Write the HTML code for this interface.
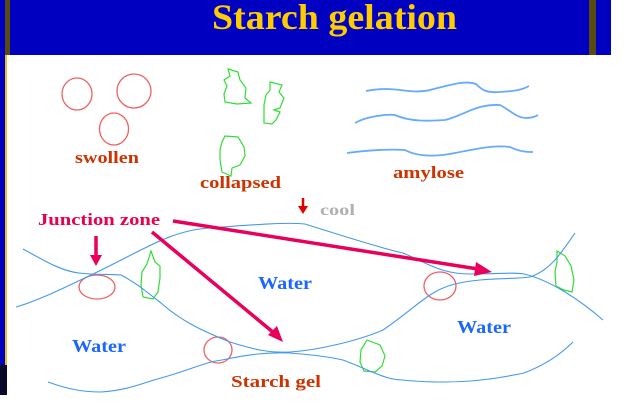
<!DOCTYPE html>
<html><head><style>
body{margin:0;width:624px;height:405px;overflow:hidden;background:#fff}
svg{display:block}
text{font-family:"Liberation Serif",serif;font-weight:bold}
</style></head><body>
<svg width="624" height="405" viewBox="0 0 624 405" xmlns="http://www.w3.org/2000/svg">
<rect x="0" y="0" width="611" height="55" fill="#0000c0"/>
<rect x="0" y="55" width="7" height="310" fill="#0000c0"/>
<rect x="0" y="365" width="7" height="30" fill="#080828"/>
<rect x="5" y="0" width="5" height="55" fill="#5a4a10"/>
<rect x="5" y="55" width="2" height="310" fill="#e8c020"/>
<rect x="589" y="0" width="7" height="55" fill="#5a4a10"/>
<text x="212" y="29" font-size="36" fill="#ffcc00" textLength="245" lengthAdjust="spacingAndGlyphs">Starch gelation</text>

<g fill="none" stroke="#f06060" stroke-width="1.3">
<ellipse cx="77" cy="94" rx="15" ry="16"/>
<ellipse cx="134" cy="91" rx="17" ry="17"/>
<ellipse cx="114" cy="129" rx="14.5" ry="16"/>
<ellipse cx="97" cy="287" rx="18" ry="12"/>
<ellipse cx="440" cy="286" rx="16" ry="14"/>
<ellipse cx="218" cy="350" rx="14" ry="13"/>
</g>
<g fill="none" stroke="#33dd33" stroke-width="1.2">
<path d="M228,69 L238,72 L240,80 L246,88 L245,98 L251,103 L237,104 L225,102 L224,94 L227,86 L224,80 L230,76 Z"/>
<path d="M270,82 L282,85 L279,92 L284,98 L280,108 L274,110 L280,112 L276,120 L272,124 L264,123 L264,105 L266,95 L270,90 Z"/>
<path d="M225,136 L238,137 L244,147 L245,156 L240,165 L232,168 L231,176 L222,172 L220,160 L220,150 L222,142 Z"/>
<path d="M151,251 L155,262 L160,266 L160,278 L158,292 L153,299 L143,297 L141,285 L142,272 L147,264 Z"/>
<path d="M557,251 L565,256 L571,266 L574,280 L572,292 L564,290 L556,286 L555,272 L557,262 Z"/>
<path d="M367,340 L380,345 L385,356 L382,366 L375,372 L364,371 L360,362 L361,350 Z"/>
</g>
<g fill="none" stroke="#66aaff" stroke-width="1.8">
<path d="M366,91 C395,85 410,95 430,90 C450,85 465,80 476,84 C482,90 486,93 500,92 C515,91 522,90 529,86"/>
<path d="M355,123 C365,117 385,114 395,115 C410,122 430,121 445,120 C465,115 475,104 500,105 C510,110 515,117 525,118 C530,118 535,117 538,115"/>
<path d="M347,153 C370,150 390,149 405,150 C420,158 440,156 455,153 C480,148 495,145 510,147 C520,152 528,152 533,152"/>
</g>
<g fill="none" stroke="#4499ee" stroke-width="1.1">
<path d="M16,307 C40,300 70,285 93,274 C140,252 170,230 210,228 C250,225 285,222 305,224 C340,235 380,248 403,253 C425,262 440,274 470,274 C500,274 515,272 524,274 C550,280 580,300 603,320"/>
<path d="M23,249 C40,258 60,271 79,273 C95,275 110,274 121,275 C140,285 150,295 161,303 C180,320 200,330 230,342 C255,350 270,353 290,352 C320,350 360,340 383,330 C405,315 415,305 430,295 C445,285 460,282 480,280 C500,278 515,279 530,277 C550,270 560,255 575,233"/>
<path d="M48,382 C70,390 85,392 101,392 C130,390 145,382 161,378 C190,370 205,362 222,360 C245,355 265,352 290,353 C315,355 330,357 343,360 C370,370 385,380 403,380 C420,382 435,382 444,382 C475,382 500,378 524,373 C545,365 560,355 573,342"/>
</g>
<g stroke="#e8005a" stroke-width="3.5" fill="#e8005a">
<line x1="173" y1="221" x2="478" y2="269"/>
<polygon points="492,272 476,262 474,276" stroke="none"/>
<line x1="152" y1="232" x2="274" y2="333"/>
<polygon points="283,342 268,335 277,326" stroke="none"/>
<line x1="96" y1="236" x2="96" y2="256"/>
<polygon points="96,266 90,255 102,255" stroke="none"/>
</g>
<g stroke="#e00000" stroke-width="2.5" fill="#e00000">
<line x1="303" y1="198" x2="303" y2="207"/>
<polygon points="303,214 298,206 308,206" stroke="none"/>
</g>
<text x="75" y="163" font-size="17" fill="#cc3300" textLength="64" lengthAdjust="spacingAndGlyphs">swollen</text>
<text x="200" y="188" font-size="17" fill="#cc3300" textLength="81" lengthAdjust="spacingAndGlyphs">collapsed</text>
<text x="393" y="178" font-size="17" fill="#cc3300" textLength="71" lengthAdjust="spacingAndGlyphs">amylose</text>
<text x="320" y="215" font-size="16" fill="#b0b0b0" textLength="35" lengthAdjust="spacingAndGlyphs">cool</text>
<text x="38" y="225" font-size="17" fill="#e8004c" textLength="122" lengthAdjust="spacingAndGlyphs">Junction zone</text>
<text x="258" y="289" font-size="18" fill="#1a66ff" textLength="54" lengthAdjust="spacingAndGlyphs">Water</text>
<text x="72" y="352" font-size="18" fill="#1a66ff" textLength="54" lengthAdjust="spacingAndGlyphs">Water</text>
<text x="457" y="333" font-size="18" fill="#1a66ff" textLength="54" lengthAdjust="spacingAndGlyphs">Water</text>
<text x="231" y="387" font-size="17" fill="#cc3300" textLength="90" lengthAdjust="spacingAndGlyphs">Starch gel</text>
</svg>
</body></html>
